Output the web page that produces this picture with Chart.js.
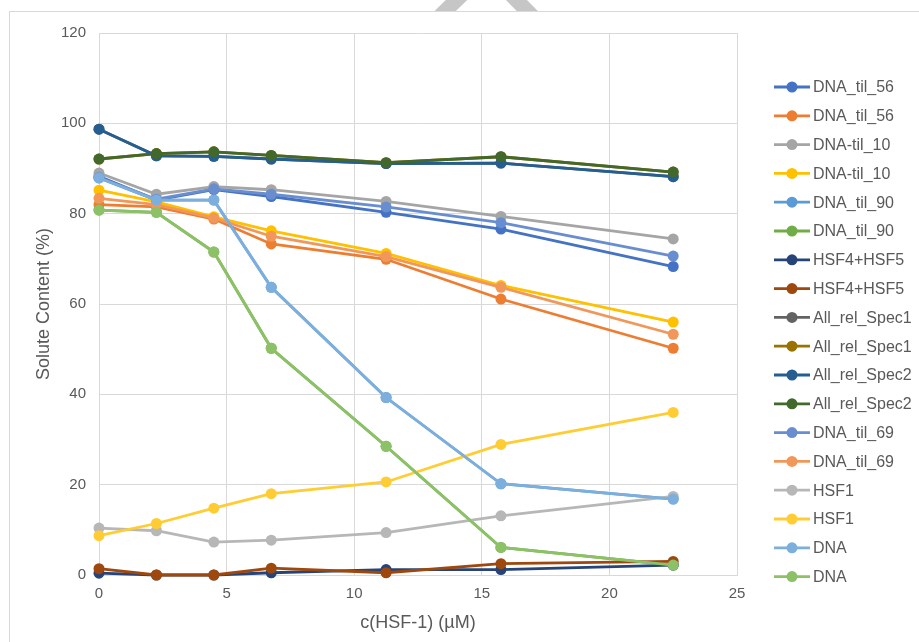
<!DOCTYPE html>
<html>
<head>
<meta charset="utf-8">
<title>Solute Content vs c(HSF-1)</title>
<script src="https://cdn.jsdelivr.net/npm/chart.js@4.4.1/dist/chart.umd.min.js"></script>
<style>
  html, body { margin: 0; padding: 0; background: #ffffff; }
  #wrap { position: relative; width: 919px; height: 642px; }
  canvas { display: block; }
</style>
</head>
<body>
<div id="wrap"><canvas id="chart" width="919" height="642"></canvas></div>
<script>
// HSF-1 concentrations (µM)
const concentrations = [0, 2.25, 4.5, 6.75, 11.25, 15.75, 22.5];

// Solute content (%) per series
const dnaTil56A      = [88.3, 83.0, 85.3, 83.8, 80.3, 76.6, 68.3];
const dnaTil56B      = [82.0, 81.5, 78.8, 73.3, 69.9, 61.1, 50.2];
const dnaTil10A      = [89.0, 84.3, 86.0, 85.3, 82.7, 79.4, 74.4];
const dnaTil10B      = [85.2, 82.6, 79.3, 76.2, 71.2, 64.1, 56.0];
const dnaTil90A      = [87.9, 83.0, 83.0, 63.7, 39.3, 20.2, 16.8];
const dnaTil90B      = [80.8, 80.3, 71.5, 50.2, 28.5, 6.1, 2.2];
const hsf45A         = [0.4, 0.0, 0.0, 0.5, 1.2, 1.2, 2.2];
const hsf45B         = [1.4, 0.0, 0.0, 1.5, 0.5, 2.5, 3.0];
const allRelSpec1A   = [98.7, 92.8, 92.7, 92.1, 91.1, 91.2, 88.2];
const allRelSpec1B   = [92.1, 93.3, 93.7, 92.9, 91.3, 92.6, 89.2];
const allRelSpec2A   = [98.7, 92.8, 92.7, 92.1, 91.1, 91.2, 88.2];
const allRelSpec2B   = [92.1, 93.3, 93.7, 92.9, 91.3, 92.6, 89.2];
const dnaTil69A      = [88.0, 83.2, 85.5, 84.3, 81.5, 78.0, 70.6];
const dnaTil69B      = [83.4, 82.0, 79.0, 75.0, 70.5, 63.7, 53.3];
const hsf1A          = [10.4, 9.8, 7.3, 7.7, 9.4, 13.1, 17.4];
const hsf1B          = [8.7, 11.4, 14.8, 18.0, 20.6, 28.9, 36.0];
const dnaA           = [87.9, 83.0, 83.0, 63.7, 39.3, 20.2, 16.8];
const dnaB           = [80.8, 80.3, 71.5, 50.2, 28.5, 6.1, 2.2];

const seriesNames = [
  'DNA_til_56', 'DNA_til_56', 'DNA-til_10', 'DNA-til_10', 'DNA_til_90', 'DNA_til_90',
  'HSF4+HSF5', 'HSF4+HSF5', 'All_rel_Spec1', 'All_rel_Spec1', 'All_rel_Spec2', 'All_rel_Spec2',
  'DNA_til_69', 'DNA_til_69', 'HSF1', 'HSF1', 'DNA', 'DNA'
];
const seriesValues = [
  dnaTil56A, dnaTil56B, dnaTil10A, dnaTil10B, dnaTil90A, dnaTil90B,
  hsf45A, hsf45B, allRelSpec1A, allRelSpec1B, allRelSpec2A, allRelSpec2B,
  dnaTil69A, dnaTil69B, hsf1A, hsf1B, dnaA, dnaB
];
const seriesColors = [
  '#4472C4', '#ED7D31', '#A5A5A5', '#FFC000', '#5B9BD5', '#70AD47',
  '#264478', '#9E480E', '#636363', '#997300', '#255E91', '#43682B',
  '#698ED0', '#F1975A', '#B7B7B7', '#FFCD33', '#7CAFDD', '#8CC168'
];

const xTicks = [0, 5, 10, 15, 20, 25];
const yTicks = [0, 20, 40, 60, 80, 100, 120];

const FONT = '"Liberation Sans", Arial, sans-serif';
const TEXT = '#595959';
const GRID = '#D9D9D9';

const datasets = seriesNames.map((name, i) => ({
  label: name,
  data: concentrations.map((c, k) => ({ x: c, y: seriesValues[i][k] })),
  borderColor: seriesColors[i],
  backgroundColor: seriesColors[i],
  borderWidth: 2.8,
  pointRadius: 5.5,
  pointHoverRadius: 5.5,
  pointBorderWidth: 0,
  tension: 0,
  clip: false,
  // later series are painted over earlier ones
  order: seriesNames.length - i
}));

// Page frame and the grey chevron behind it
const framePlugin = {
  id: 'frame',
  beforeDraw(chart) {
    const ctx = chart.ctx;
    ctx.save();
    ctx.fillStyle = '#ffffff';
    ctx.fillRect(0, 0, chart.width, chart.height);
    ctx.strokeStyle = '#C6C6C6';
    ctx.lineWidth = 15;
    ctx.lineCap = 'butt';
    ctx.beginPath();
    ctx.moveTo(430, 26);
    ctx.lineTo(487, -30);
    ctx.lineTo(542, 26);
    ctx.stroke();
    ctx.fillStyle = '#ffffff';
    ctx.fillRect(9, 11, chart.width, chart.height);
    ctx.strokeStyle = '#D9D9D9';
    ctx.lineWidth = 1;
    ctx.strokeRect(9.5, 11.5, chart.width + 10, chart.height + 10);
    ctx.restore();
  }
};

// Legend on the right: line with marker, then the series name
const sideLegendPlugin = {
  id: 'sideLegend',
  afterDraw(chart) {
    const ctx = chart.ctx;
    ctx.save();
    ctx.font = '16px ' + FONT;
    ctx.textBaseline = 'middle';
    ctx.textAlign = 'left';
    chart.data.datasets.forEach((ds, i) => {
      const y = 87 + i * 28.8;
      ctx.strokeStyle = ds.borderColor;
      ctx.lineWidth = 2.8;
      ctx.beginPath();
      ctx.moveTo(774, y);
      ctx.lineTo(810, y);
      ctx.stroke();
      ctx.fillStyle = ds.borderColor;
      ctx.beginPath();
      ctx.arc(792, y, 5.5, 0, Math.PI * 2);
      ctx.fill();
      ctx.fillStyle = TEXT;
      ctx.fillText(ds.label, 813, y + 1);
    });
    ctx.restore();
  }
};

new Chart(document.getElementById('chart'), {
  type: 'line',
  data: { datasets },
  options: {
    responsive: false,
    animation: false,
    events: [],
    layout: { padding: { left: 26, top: 33, right: 182, bottom: 8 } },
    plugins: { legend: { display: false }, tooltip: { enabled: false } },
    scales: {
      x: {
        type: 'linear',
        min: 0,
        max: 25,
        afterBuildTicks(scale) { scale.ticks = xTicks.map(v => ({ value: v })); },
        afterFit(scale) { scale.height = 642 - 575 - 8; },
        grid: { color: GRID, lineWidth: 1, drawTicks: false },
        border: { color: GRID, width: 1 },
        ticks: { color: TEXT, font: { family: FONT, size: 15 }, padding: 10 },
        title: {
          display: true,
          text: 'c(HSF-1) (µM)',
          color: TEXT,
          font: { family: FONT, size: 18 },
          padding: { top: 4, bottom: 0 }
        }
      },
      y: {
        min: 0,
        max: 120,
        afterBuildTicks(scale) { scale.ticks = yTicks.map(v => ({ value: v })); },
        afterFit(scale) { scale.width = 99 - 26; },
        grid: { color: GRID, lineWidth: 1, drawTicks: false },
        border: { color: GRID, width: 1 },
        ticks: { color: TEXT, font: { family: FONT, size: 15 }, padding: 13 },
        title: {
          display: true,
          text: 'Solute Content (%)',
          color: TEXT,
          font: { family: FONT, size: 18 },
          padding: { top: 7, bottom: 0 }
        }
      }
    }
  },
  plugins: [framePlugin, sideLegendPlugin]
});
</script>
</body>
</html>
